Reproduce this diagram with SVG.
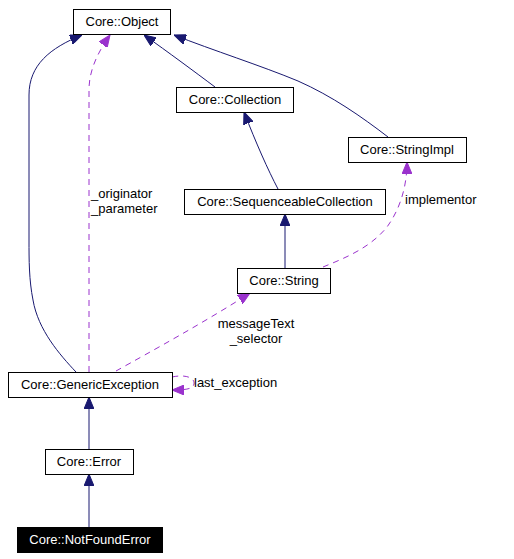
<svg xmlns="http://www.w3.org/2000/svg" width="514" height="559" viewBox="0 0 514 559">
<style>
.box{fill:#fff;stroke:#000;stroke-width:1}
.t{font-family:"Liberation Sans",Arial,sans-serif;font-size:13px;fill:#000;text-anchor:middle}
.lbl{font-family:"Liberation Sans",Arial,sans-serif;font-size:13px;fill:#000}
.inh{fill:none;stroke:#191970;stroke-width:1;marker-end:url(#an)}
.use{fill:none;stroke:#9a32cd;stroke-width:1;stroke-dasharray:6,5;marker-end:url(#ap)}
</style>
<defs>
<marker id="an" viewBox="0 0 12 10" refX="12" refY="5" markerWidth="12" markerHeight="10" markerUnits="userSpaceOnUse" orient="auto">
<path d="M0,0 L12,5 L0,10 z" fill="#191970" stroke="#191970"/>
</marker>
<marker id="ap" viewBox="0 0 12 10" refX="12" refY="5" markerWidth="12" markerHeight="10" markerUnits="userSpaceOnUse" orient="auto">
<path d="M0,0 L12,5 L0,10 z" fill="#9a32cd" stroke="#9a32cd"/>
</marker>
</defs>
<rect width="514" height="559" fill="#fff"/>
<g id="connectors">
<path class="inh" d="M76,372 C60,355 38,330 33,300 C29,280 29,260 29,240 L29,95 C29,65 50,48 82,35"/>
<path class="use" d="M89,372 L89,90 C89,70 98,52 110,35"/>
<path class="inh" d="M215,87 C195,72 168,52 144,35"/>
<path class="inh" d="M388,137 C362,117 332,96 298,81 C262,66 212,50 174,35"/>
<path class="inh" d="M278,189 C268,170 256,143 244,112"/>
<path class="inh" d="M285,268 L285,214"/>
<path class="use" d="M323,267 C345,258 370,248 387,227 C398,212 407,190 407,162"/>
<path class="use" d="M116,371 C150,352 205,322 250,293"/>
<path class="use" d="M172,377 C186,374 195,378 194,384 C193,389 186,390 172,390"/>
<path class="inh" d="M89,449 L89,397"/>
<path class="inh" d="M89,527 L89,474"/>
</g>
<g id="labels">
<text class="lbl" x="91" y="198">_originator</text>
<text class="lbl" x="91" y="213">_parameter</text>
<text class="lbl" x="405" y="204">implementor</text>
<text class="t" x="256" y="328">messageText</text>
<text class="t" x="256" y="343">_selector</text>
<text class="lbl" x="194" y="387">last_exception</text>
</g>
<g id="n-object"><rect class="box" x="73.5" y="9.5" width="97" height="25"/><text class="t" x="122" y="26">Core::Object</text></g>
<g id="n-collection"><rect class="box" x="176.5" y="87.5" width="117" height="25"/><text class="t" x="235" y="104">Core::Collection</text></g>
<g id="n-stringimpl"><rect class="box" x="348.5" y="137.5" width="118" height="25"/><text class="t" x="407" y="154">Core::StringImpl</text></g>
<g id="n-seqcoll"><rect class="box" x="184.5" y="189.5" width="201" height="25"/><text class="t" x="285" y="206">Core::SequenceableCollection</text></g>
<g id="n-string"><rect class="box" x="237.5" y="268.5" width="93" height="25"/><text class="t" x="284" y="285">Core::String</text></g>
<g id="n-genericexception"><rect class="box" x="8.5" y="372.5" width="164" height="25"/><text class="t" x="90" y="389">Core::GenericException</text></g>
<g id="n-error"><rect class="box" x="45.5" y="449.5" width="88" height="25"/><text class="t" x="89" y="466">Core::Error</text></g>
<g id="n-notfounderror"><rect x="17.5" y="527.5" width="145" height="25" fill="#000" stroke="#000"/><text class="t" x="90" y="544" style="fill:#fff">Core::NotFoundError</text></g>
</svg>
